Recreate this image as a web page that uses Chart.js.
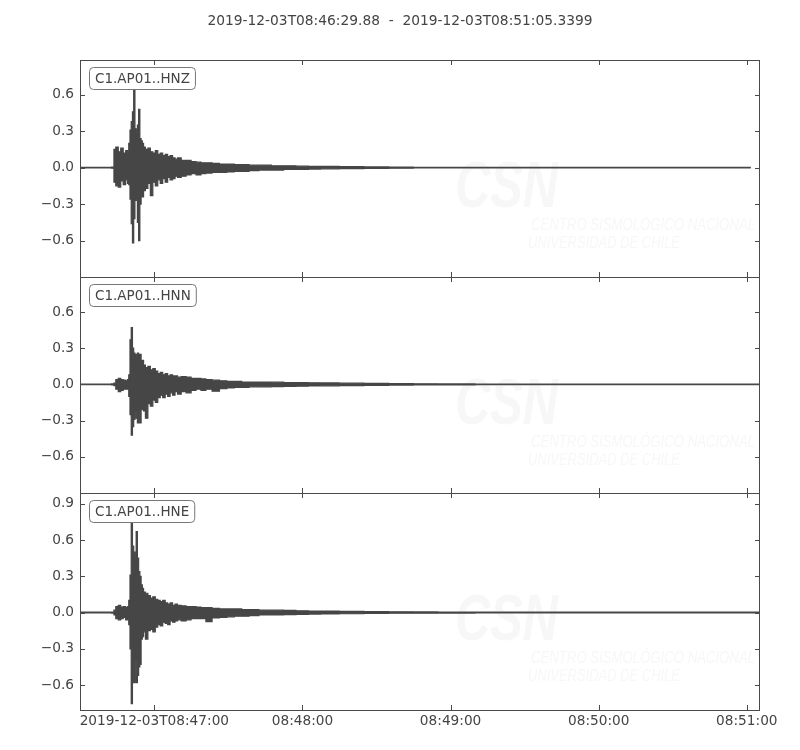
<!DOCTYPE html>
<html>
<head>
<meta charset="utf-8">
<script src="https://cdn.jsdelivr.net/npm/chart.js@4.4.1/dist/chart.umd.min.js"></script>
<style>
  body { margin: 0; background: #fff; }
  #wrap { position: relative; width: 800px; height: 750px; }
  #wrap canvas { position: absolute; left: 0; top: 0; }
</style>
</head>
<body>
<div id="wrap">
  <canvas id="hnz" width="800" height="750"></canvas>
  <canvas id="hnn" width="800" height="750"></canvas>
  <canvas id="hne" width="800" height="750"></canvas>
</div>
<script>
const titleText = '2019-12-03T08:46:29.88  -  2019-12-03T08:51:05.3399';
const channels = ['C1.AP01..HNZ', 'C1.AP01..HNN', 'C1.AP01..HNE'];

// time of each envelope bin, seconds after 08:46:29.88
const binTimes = [
  0, 6, 12, 13.5,
  14, 15, 16, 17, 18, 19,
  19.5, 20, 20.5, 21, 21.5, 22, 22.5, 23, 23.5, 24, 24.5, 25, 25.5, 26,
  27, 28, 29, 30, 31, 32, 33, 34, 35, 36, 37, 38, 39, 40,
  42, 44, 46, 48, 50, 52,
  55, 58, 61, 64, 67, 70,
  75, 80, 85, 90, 95, 100,
  110, 120, 130, 140, 150,
  170, 190, 210, 230, 250, 270
];
const traceEnd = [271.7, 275.46, 275.46];

// max / min of each trace in every bin
const hnzMax = [
  0.003, 0.003, 0.003, 0.005,
  0.15, 0.17, 0.13, 0.16, 0.12, 0.14,
  0.11, 0.20, 0.31, 0.38, 0.46, 0.65, 0.32, 0.28, 0.35, 0.48, 0.24, 0.22, 0.20, 0.17,
  0.15, 0.16, 0.13, 0.12, 0.14, 0.11, 0.12, 0.10, 0.11, 0.09, 0.10, 0.08, 0.07, 0.08,
  0.06, 0.06, 0.05, 0.045, 0.04, 0.04,
  0.035, 0.03, 0.03, 0.025, 0.025, 0.02,
  0.02, 0.015, 0.015, 0.012, 0.01, 0.01,
  0.008, 0.006, 0.005, 0.003, 0.003,
  0.003, 0.003, 0.003, 0.003, 0.003, 0.003
];
const hnzMin = [
  -0.003, -0.003, -0.003, -0.005,
  -0.12, -0.15, -0.16, -0.11, -0.14, -0.10,
  -0.13, -0.14, -0.26, -0.46, -0.62, -0.42, -0.27, -0.25, -0.45, -0.60, -0.30, -0.22, -0.24, -0.19,
  -0.17, -0.13, -0.23, -0.12, -0.15, -0.10, -0.13, -0.09, -0.12, -0.08, -0.10, -0.09, -0.07, -0.08,
  -0.07, -0.06, -0.05, -0.06, -0.05, -0.045,
  -0.04, -0.04, -0.035, -0.03, -0.03, -0.025,
  -0.02, -0.02, -0.015, -0.015, -0.012, -0.01,
  -0.008, -0.006, -0.005, -0.003, -0.003,
  -0.003, -0.003, -0.003, -0.003, -0.003, -0.003
];
const hnnMax = [
  0.003, 0.003, 0.003, 0.004,
  0.01, 0.04, 0.05, 0.04, 0.035, 0.03,
  0.04, 0.08, 0.37, 0.47, 0.30, 0.26, 0.25, 0.22, 0.26, 0.24, 0.25, 0.18, 0.20, 0.16,
  0.14, 0.15, 0.12, 0.13, 0.11, 0.09, 0.10, 0.08, 0.09, 0.07, 0.08, 0.07, 0.07, 0.06,
  0.065, 0.06, 0.05, 0.05, 0.045, 0.04,
  0.035, 0.03, 0.025, 0.025, 0.02, 0.02,
  0.02, 0.018, 0.015, 0.015, 0.013, 0.012,
  0.01, 0.008, 0.006, 0.005, 0.004,
  0.003, 0.003, 0.003, 0.003, 0.003, 0.003
];
const hnnMin = [
  -0.003, -0.003, -0.003, -0.004,
  -0.01, -0.04, -0.06, -0.05, -0.04, -0.04,
  -0.035, -0.10, -0.25, -0.42, -0.35, -0.29, -0.22, -0.28, -0.32, -0.20, -0.32, -0.21, -0.18, -0.22,
  -0.28, -0.16, -0.18, -0.13, -0.15, -0.11, -0.09, -0.11, -0.08, -0.10, -0.07, -0.09, -0.06, -0.08,
  -0.06, -0.07, -0.05, -0.04, -0.05, -0.04,
  -0.056, -0.035, -0.03, -0.025, -0.025, -0.02,
  -0.02, -0.018, -0.017, -0.015, -0.013, -0.012,
  -0.01, -0.008, -0.006, -0.005, -0.004,
  -0.003, -0.003, -0.003, -0.003, -0.003, -0.003
];
const hneMax = [
  0.003, 0.003, 0.003, 0.004,
  0.02, 0.05, 0.06, 0.045, 0.05, 0.04,
  0.05, 0.10, 0.31, 0.75, 0.55, 0.50, 0.45, 0.67, 0.45, 0.34, 0.30, 0.23, 0.20, 0.17,
  0.16, 0.14, 0.12, 0.13, 0.11, 0.10, 0.09, 0.10, 0.08, 0.07, 0.08, 0.06, 0.07, 0.06,
  0.055, 0.05, 0.05, 0.045, 0.04, 0.04,
  0.035, 0.03, 0.03, 0.03, 0.025, 0.025,
  0.02, 0.02, 0.018, 0.015, 0.013, 0.012,
  0.01, 0.008, 0.006, 0.005, 0.004,
  0.003, 0.003, 0.003, 0.003, 0.003, 0.003
];
const hneMin = [
  -0.003, -0.003, -0.003, -0.004,
  -0.02, -0.05, -0.06, -0.05, -0.04, -0.06,
  -0.045, -0.10, -0.30, -0.755, -0.46, -0.58, -0.40, -0.58, -0.52, -0.45, -0.43, -0.22, -0.20, -0.16,
  -0.22, -0.15, -0.14, -0.16, -0.12, -0.10, -0.11, -0.08, -0.09, -0.10, -0.07, -0.08, -0.07, -0.06,
  -0.07, -0.06, -0.05, -0.05, -0.05, -0.075,
  -0.045, -0.04, -0.035, -0.03, -0.03, -0.025,
  -0.02, -0.02, -0.018, -0.015, -0.013, -0.012,
  -0.01, -0.008, -0.006, -0.005, -0.004,
  -0.003, -0.003, -0.003, -0.003, -0.003, -0.003
];

const totalSecs = 275.46;
const xTickSecs = [30.12, 90.12, 150.12, 210.12, 270.12];
const xTickLabels = ['2019-12-03T08:47:00', '08:48:00', '08:49:00', '08:50:00', '08:51:00'];
const yTicksZN = [-0.6, -0.3, 0, 0.3, 0.6];
const yTicksE = [-0.6, -0.3, 0, 0.3, 0.6, 0.9];
const yRanges = [[-0.90, 0.886], [-0.90, 0.89], [-0.807, 0.99]];

const panelEdges = [60, 277, 493, 710];
const traceColor = '#464646';
const frameColor = '#4a4a4a';
const textColor = '#444444';
const markColor = '#f7f7f7';
const fontFamily = '"DejaVu Sans", sans-serif';

Chart.defaults.font.family = fontFamily;
Chart.defaults.font.size = 13.7;
Chart.defaults.color = textColor;

function envelope(vals, end) {
  const pts = [];
  binTimes.forEach((t, i) => { if (t < end) pts.push({ x: t, y: vals[i] }); });
  pts.push({ x: end, y: vals[vals.length - 1] });
  return pts;
}

function fitText(ctx, text, x, y, w) {
  const m = ctx.measureText(text).width;
  ctx.save();
  ctx.translate(x, y);
  ctx.scale(w / m, 1);
  ctx.fillText(text, 0, 0);
  ctx.restore();
}

function roundBox(ctx, x, y, w, h, r) {
  ctx.beginPath();
  ctx.moveTo(x + r, y);
  ctx.arcTo(x + w, y, x + w, y + h, r);
  ctx.arcTo(x + w, y + h, x, y + h, r);
  ctx.arcTo(x, y + h, x, y, r);
  ctx.arcTo(x, y, x + w, y, r);
  ctx.closePath();
}

const panelDecor = {
  id: 'panelDecor',
  beforeDatasetsDraw(chart) {
    // faint CSN watermark
    const { ctx, chartArea: a } = chart;
    ctx.save();
    ctx.fillStyle = markColor;
    ctx.textBaseline = 'alphabetic';
    ctx.font = 'italic bold 64px "Liberation Sans"';
    fitText(ctx, 'CSN', a.left + 375, a.top + 147, 103);
    ctx.font = 'italic 17px "Liberation Sans"';
    fitText(ctx, 'CENTRO SISMOLÓGICO NACIONAL', a.left + 451, a.top + 170, 224);
    fitText(ctx, 'UNIVERSIDAD DE CHILE', a.left + 448, a.top + 188, 152);
    ctx.restore();
  },
  afterDraw(chart, args, opts) {
    const { ctx, chartArea: a, scales } = chart;
    ctx.save();
    ctx.strokeStyle = frameColor;
    ctx.lineWidth = 1;
    ctx.strokeRect(a.left + 0.5, a.top + 0.5, a.right - a.left - 1, a.bottom - a.top);
    ctx.beginPath();
    scales.y.ticks.forEach(t => {
      const py = Math.round(scales.y.getPixelForValue(t.value)) + 0.5;
      ctx.moveTo(a.left, py); ctx.lineTo(a.left + 5, py);
      ctx.moveTo(a.right - 5, py); ctx.lineTo(a.right, py);
    });
    scales.x.ticks.forEach(t => {
      const px = Math.round(scales.x.getPixelForValue(t.value)) + 0.5;
      ctx.moveTo(px, a.top); ctx.lineTo(px, a.top + 5);
      ctx.moveTo(px, a.bottom - 5); ctx.lineTo(px, a.bottom);
    });
    ctx.stroke();

    // channel label box
    ctx.font = '13.5px ' + fontFamily;
    const tw = ctx.measureText(opts.label).width;
    const bx = a.left + 9.5, by = a.top + 7.5;
    roundBox(ctx, bx, by, tw + 11, 22, 4);
    ctx.fillStyle = '#ffffff';
    ctx.fill();
    ctx.strokeStyle = '#777777';
    ctx.stroke();
    ctx.fillStyle = textColor;
    ctx.textBaseline = 'middle';
    ctx.fillText(opts.label, bx + 5.5, by + 11.5);

    if (opts.showTitle) {
      ctx.font = '13.8px ' + fontFamily;
      ctx.textAlign = 'center';
      ctx.fillText(titleText, chart.width / 2, 21);
    }
    ctx.restore();
  }
};

function fmtY(v) {
  return v.toFixed(1).replace('-', '\u2212');
}

function makeChart(id, idx, maxVals, minVals, yTicks) {
  const isBottom = idx === 2;
  return new Chart(document.getElementById(id), {
    type: 'line',
    data: {
      datasets: [
        { data: envelope(maxVals, traceEnd[idx]), borderColor: traceColor, borderWidth: 1.2,
          pointRadius: 0, stepped: 'middle', fill: false },
        { data: envelope(minVals, traceEnd[idx]), borderColor: traceColor, backgroundColor: traceColor,
          borderWidth: 1.2, pointRadius: 0, stepped: 'middle', fill: '-1' }
      ]
    },
    options: {
      responsive: false,
      animation: false,
      devicePixelRatio: 1,
      layout: { padding: { left: 0, right: 40, top: panelEdges[idx], bottom: isBottom ? 0 : 750 - panelEdges[idx + 1] } },
      plugins: {
        legend: { display: false },
        tooltip: { enabled: false },
        panelDecor: { label: channels[idx], showTitle: idx === 0 }
      },
      scales: {
        x: {
          type: 'linear',
          min: 0,
          max: totalSecs,
          afterBuildTicks: ax => { ax.ticks = xTickSecs.map(v => ({ value: v })); },
          afterFit: s => { s.height = isBottom ? 750 - panelEdges[3] : 0; },
          grid: { display: false, drawTicks: false },
          border: { display: false },
          ticks: {
            display: isBottom,
            autoSkip: false,
            maxRotation: 0,
            minRotation: 0,
            padding: 3,
            callback: (v, i) => xTickLabels[i]
          }
        },
        y: {
          min: yRanges[idx][0],
          max: yRanges[idx][1],
          afterBuildTicks: ax => { ax.ticks = yTicks.map(v => ({ value: v })); },
          afterFit: s => { s.width = 80; },
          grid: { display: false, drawTicks: false },
          border: { display: false },
          ticks: { padding: 6, callback: v => fmtY(v) }
        }
      }
    },
    plugins: [panelDecor]
  });
}

makeChart('hnz', 0, hnzMax, hnzMin, yTicksZN);
makeChart('hnn', 1, hnnMax, hnnMin, yTicksZN);
makeChart('hne', 2, hneMax, hneMin, yTicksE);
</script>
</body>
</html>
